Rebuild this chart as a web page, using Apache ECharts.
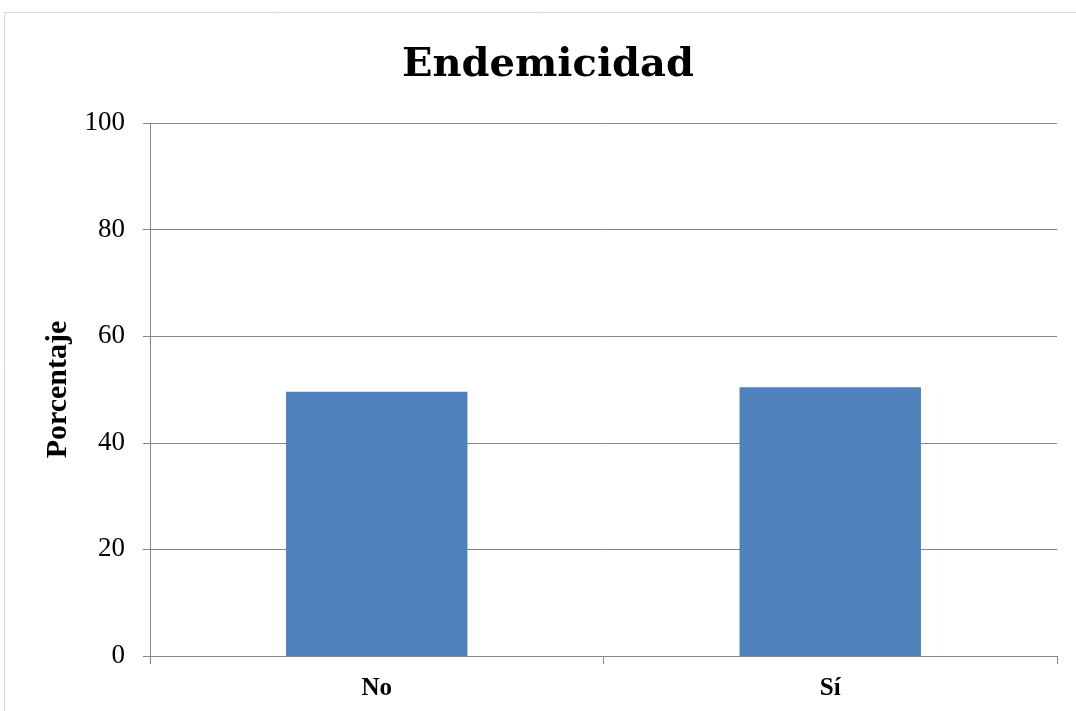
<!DOCTYPE html>
<html>
<head>
<meta charset="utf-8">
<script src="https://cdn.jsdelivr.net/npm/echarts@6/dist/echarts.min.js"></script>
<style>html,body{margin:0;padding:0;background:#fff;}#c{width:1076px;height:711px;}</style>
</head>
<body>
<div id="c"></div>
<script>
const categories = ['No', 'Sí'];
const values = [49.6, 50.4];
const yTicks = [0, 20, 40, 60, 80, 100];

const chart = echarts.init(document.getElementById('c'));
const serif = '"DejaVu Serif", "Liberation Serif", serif';
const lib = '"Liberation Serif", "DejaVu Serif", serif';
chart.setOption({
  animation: false,
  backgroundColor: '#fff',
  graphic: [{
    type: 'rect', silent: true,
    shape: { x: 4.5, y: 12.5, width: 1200, height: 900 },
    style: { fill: 'none', stroke: '#d9d9d9', lineWidth: 1 }
  }],
  title: {
    text: 'Endemicidad',
    left: 543, top: 41, textAlign: 'center',
    textStyle: { fontFamily: serif, fontWeight: 'bold', fontSize: 40, color: '#000' }
  },
  grid: { left: 150, right: 19, top: 123, bottom: 55, containLabel: false },
  xAxis: {
    type: 'category',
    data: categories,
    axisLine: { lineStyle: { color: '#868686', width: 1 } },
    axisTick: { show: true, alignWithLabel: false, length: 8, lineStyle: { color: '#868686' } },
    axisLabel: { fontFamily: lib, fontWeight: 'bold', fontSize: 25, color: '#000', margin: 20 }
  },
  yAxis: {
    type: 'value',
    min: yTicks[0], max: yTicks[yTicks.length - 1], interval: 20,
    name: 'Porcentaje',
    nameLocation: 'middle',
    nameGap: 75,
    nameTextStyle: { fontFamily: lib, fontWeight: 'bold', fontSize: 30, color: '#000' },
    axisLine: { show: true, lineStyle: { color: '#868686', width: 1 } },
    axisTick: { show: true, length: 7, lineStyle: { color: '#868686' } },
    axisLabel: { fontFamily: lib, fontSize: 27, color: '#000', margin: 25 },
    splitLine: { show: true, lineStyle: { color: '#868686', width: 1 } }
  },
  series: [{
    type: 'bar',
    data: values,
    barWidth: '40%',
    itemStyle: { color: '#4F81BD' }
  }]
});
</script>
</body>
</html>
